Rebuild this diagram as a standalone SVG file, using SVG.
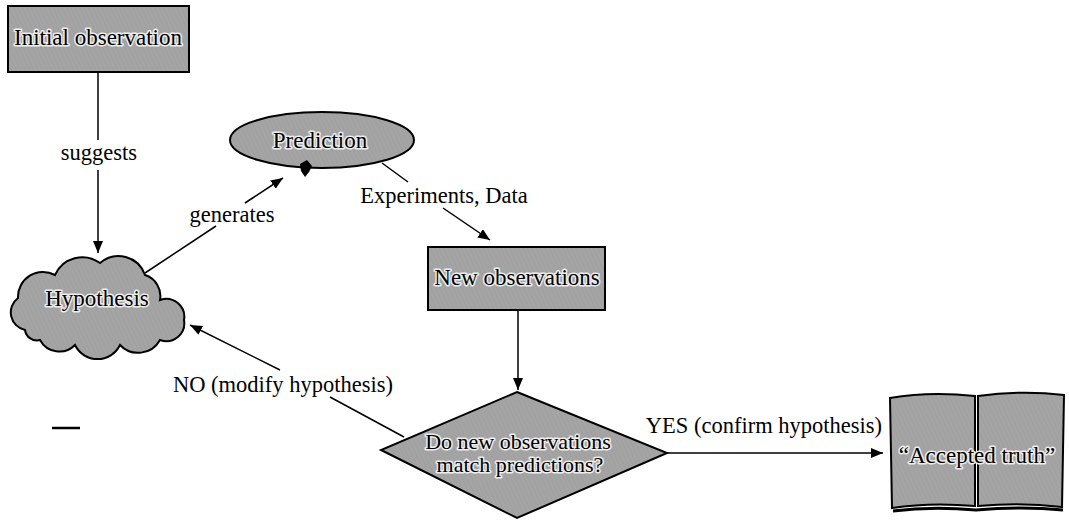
<svg xmlns="http://www.w3.org/2000/svg" width="1069" height="520" viewBox="0 0 1069 520">
<defs>
<pattern id="ht" width="4" height="4" patternUnits="userSpaceOnUse" patternTransform="rotate(-25)">
<rect width="4" height="4" fill="#d4d4d4"/>
<path d="M0 1H4M0 3H4" stroke="#6a6a6a" stroke-width="0.9"/>
<path d="M1 0V4" stroke="#9a9a9a" stroke-width="0.6"/>
</pattern>
<marker id="ah" viewBox="0 0 12 10" refX="12" refY="5" markerWidth="12" markerHeight="10" orient="auto" markerUnits="userSpaceOnUse">
<path d="M0 0L12 5L0 10Z" fill="#000"/>
</marker>
<style>
.shape{fill:url(#ht);stroke:#000;stroke-width:2}
.nt{font-size:23px;fill:#000;text-anchor:middle;stroke:#eee;stroke-width:3;paint-order:stroke;stroke-linejoin:round}
.lb{font-size:22.5px;fill:#000;text-anchor:middle}
.cn{fill:none;stroke:#000;stroke-width:1.5}
</style>
</defs>
<rect width="1069" height="520" fill="#fff"/>

<g font-family="Liberation Serif, DejaVu Serif, serif">
<g id="connectors">
<path class="cn" d="M98 72V140"/>
<path class="cn" d="M98 170V253" marker-end="url(#ah)"/>
<path class="cn" d="M145 273L216 226"/>
<path class="cn" d="M245 203L283 178" marker-end="url(#ah)"/>
<path class="cn" d="M382 163L408 182"/>
<path class="cn" d="M443 208L490 240" marker-end="url(#ah)"/>
<path class="cn" d="M518 310V390" marker-end="url(#ah)"/>
<path class="cn" d="M404 437L330 397"/>
<path class="cn" d="M280 370L190 325" marker-end="url(#ah)"/>
<path class="cn" d="M667 453H883" marker-end="url(#ah)"/>
<text class="lb" x="99" y="160">suggests</text>
<text class="lb" x="232" y="222">generates</text>
<text class="lb" x="444" y="203">Experiments, Data</text>
<text class="lb" x="283" y="392">NO (modify hypothesis)</text>
<text class="lb" x="882" y="433" text-anchor="end" style="text-anchor:end">YES (confirm hypothesis)</text>
</g>

<g id="initial">
<rect class="shape" x="8" y="6" width="181" height="66"/>
<text class="nt" x="98" y="45">Initial observation</text>
</g>

<g id="hypothesis">
<path class="shape" d="M25 330A18 18 0 0 1 18 298A25 25 0 0 1 55 275A30 30 0 0 1 100 263A28 28 0 0 1 145 275A22 22 0 0 1 160 300A18 18 0 0 1 184 320A18 18 0 0 1 160 340A25 25 0 0 1 120 345A25 25 0 0 1 75 345A22 22 0 0 1 40 340A12 12 0 0 1 25 330Z"/>
<text class="nt" x="97" y="306">Hypothesis</text>
</g>

<g id="prediction">
<ellipse class="shape" cx="322" cy="140" rx="92" ry="28"/>
<text class="nt" x="320" y="148">Prediction</text>
<path d="M300 164L307 160L312 166L309 172L305 177L301 171Z" fill="#000"/>
</g>

<g id="newobs">
<rect class="shape" x="428" y="247" width="177" height="63"/>
<text class="nt" x="517" y="285">New observations</text>
</g>

<g id="decision">
<path class="shape" d="M517 392L667 453L517 518L381 450Z"/>
<text class="nt" x="518" y="449" style="font-size:22px">Do new observations</text>
<text class="nt" x="520" y="472" style="font-size:22px">match predictions?</text>
</g>

<g id="truth">
<path class="shape" d="M890 398Q930 391 975 396L975 506Q930 502 892 508Z"/>
<path class="shape" d="M978 396Q1022 390 1064 395L1062 507Q1022 502 978 506Z"/>
<path d="M893 511Q932 506 976 510Q1022 506 1063 510" fill="none" stroke="#000" stroke-width="3"/>
<text class="nt" x="977" y="463">“Accepted truth”</text>
</g>
</g>

<path d="M52 428H80" stroke="#000" stroke-width="2.5"/>
</svg>
